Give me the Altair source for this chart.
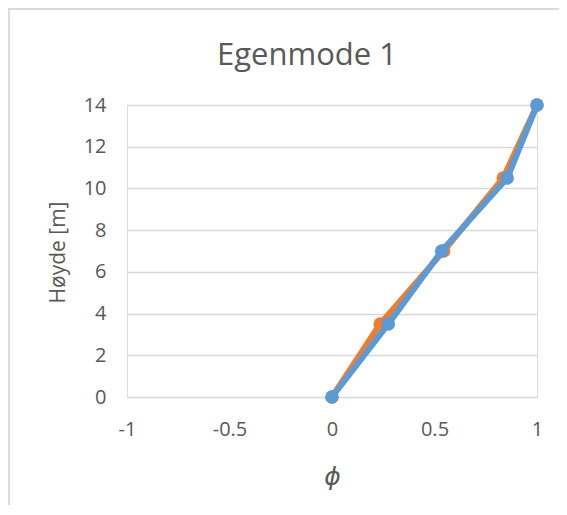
import altair as alt
import pandas as pd

heights = [0, 3.5, 7, 10.5, 14]
phi_orange = [0, 0.235, 0.545, 0.835, 1.0]
phi_blue = [0, 0.275, 0.535, 0.855, 1.0]
series_names = ["Serie 1", "Serie 2"]
series_colors = ["#ED7D31", "#5B9BD5"]
x_ticks = [-1, -0.5, 0, 0.5, 1]
y_ticks = [0, 2, 4, 6, 8, 10, 12, 14]

rows = []
for p, h in zip(phi_orange, heights):
    rows.append({"phi": p, "h": h, "s": series_names[0]})
for p, h in zip(phi_blue, heights):
    rows.append({"phi": p, "h": h, "s": series_names[1]})
df = pd.DataFrame(rows)

FONT = "Open Sans"
GRAY = "#595959"

x_enc = alt.X("phi:Q", scale=alt.Scale(domain=[-1, 1], nice=False),
              axis=alt.Axis(values=x_ticks, grid=False, domain=False, ticks=False,
                            labelPadding=22, labelFontSize=20, labelColor=GRAY,
                            labelFont=FONT, labelFlush=False,
                            labelExpr="datum.value < 0 ? '-' + format(-datum.value, '~g') : format(datum.value, '~g')",
                            title="ϕ", titleFont="DejaVu Sans", titleFontSize=25,
                            titleFontStyle="italic", titleFontWeight="normal",
                            titleColor=GRAY, titleX=205, titleY=79,
                            titleBaseline="middle", titleAlign="center"))
y_enc = alt.Y("h:Q", scale=alt.Scale(domain=[0, 14], nice=False),
              axis=alt.Axis(values=y_ticks, grid=True, gridColor="#D9D9D9",
                            gridWidth=1.5, domain=False, ticks=False,
                            labelPadding=21, labelFontSize=20, labelColor=GRAY,
                            labelFont=FONT,
                            title="Høyde [m]", titleFont=FONT, titleFontSize=21,
                            titleFontWeight="normal", titleColor=GRAY,
                            titleAngle=-90, titleX=-69, titleY=147,
                            titleBaseline="middle", titleAlign="center"))
color = alt.Color("s:N", scale=alt.Scale(domain=series_names, range=series_colors),
                  legend=None)

layers = []
for name in series_names:
    base = alt.Chart(df).transform_filter(alt.datum.s == name)
    layers.append(base.mark_line(strokeWidth=6, strokeJoin="round", strokeCap="round")
                  .encode(x=x_enc, y=y_enc, color=color, order="h:Q"))
    layers.append(base.mark_circle(size=180, opacity=1)
                  .encode(x=x_enc, y=y_enc, color=color))

border_left = alt.Chart(df).mark_rule(color="#D9D9D9", strokeWidth=1.5).encode(
    x=alt.value(-118.5), y=alt.value(-97), y2=alt.value(402))
border_top = alt.Chart(df).mark_rule(color="#D9D9D9", strokeWidth=1.5).encode(
    y=alt.value(-96.5), x=alt.value(-119), x2=alt.value(432))

chart = alt.layer(border_left, border_top, *layers).properties(
    width=410, height=292,
    title=alt.TitleParams("Egenmode 1", font=FONT, fontSize=31, fontWeight="normal",
                          color=GRAY, anchor="middle", frame="group",
                          baseline="alphabetic", offset=-89, dx=-25),
    autosize=alt.AutoSizeParams(type="none"),
    padding={"left": 119, "top": 97, "right": 22, "bottom": 108},
).configure_view(stroke=None).configure(background="white")

chart.save("out.html", embed_options={"renderer": "svg", "actions": False})
